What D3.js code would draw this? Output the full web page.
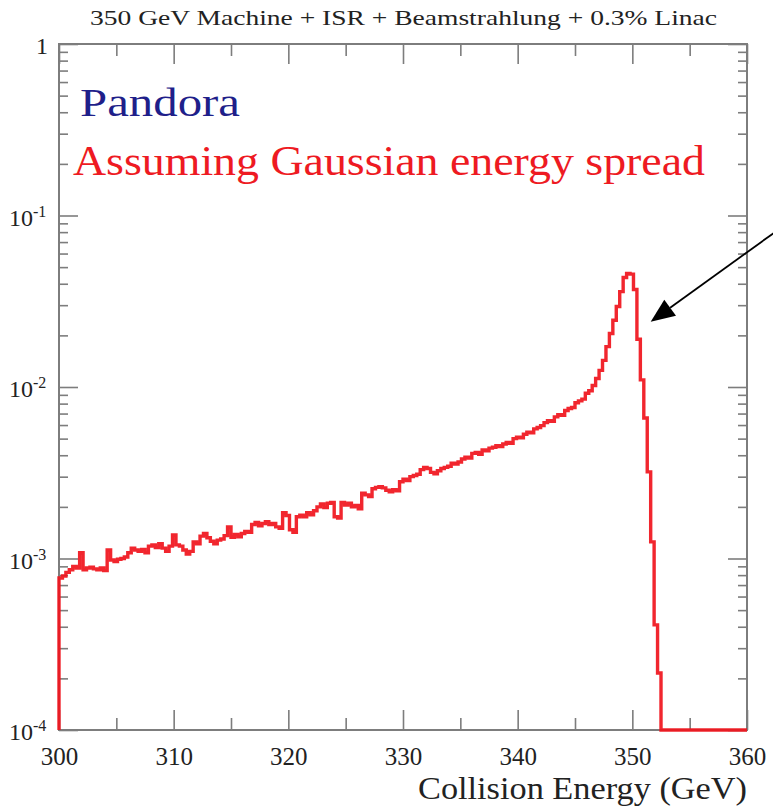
<!DOCTYPE html>
<html>
<head>
<meta charset="utf-8">
<script src="https://cdn.jsdelivr.net/npm/d3@7"></script>
<style>
  body { margin: 0; background: #fff; }
  svg { display: block; }
  svg text { font-family: "Liberation Serif", "Times New Roman", Times, serif; }
</style>
</head>
<body>
<svg id="chart"></svg>
<script>
// histogram: 0.3 GeV bins starting at 300 GeV
const binStart = 300;
const binWidth = 0.3;
const counts = [
  7.7e-4, 7.9e-4, 8.3e-4, 8.6e-4, 9.0e-4, 8.8e-4, 1.08e-3, 8.6e-4, 8.8e-4, 8.9e-4,
  8.7e-4, 8.6e-4, 8.8e-4, 8.5e-4, 1.12e-3, 9.8e-4, 9.6e-4, 9.9e-4, 1.0e-3, 1.02e-3,
  1.08e-3, 1.15e-3, 1.12e-3, 1.1e-3, 1.13e-3, 1.08e-3, 1.18e-3, 1.2e-3, 1.16e-3, 1.22e-3,
  1.15e-3, 1.1e-3, 1.18e-3, 1.37e-3, 1.2e-3, 1.18e-3, 1.12e-3, 1.06e-3, 1.1e-3, 1.25e-3,
  1.22e-3, 1.35e-3, 1.4e-3, 1.32e-3, 1.26e-3, 1.22e-3, 1.28e-3, 1.3e-3, 1.36e-3, 1.53e-3,
  1.33e-3, 1.38e-3, 1.34e-3, 1.4e-3, 1.44e-3, 1.42e-3, 1.58e-3, 1.62e-3, 1.55e-3, 1.6e-3,
  1.64e-3, 1.58e-3, 1.6e-3, 1.53e-3, 1.5e-3, 1.85e-3, 1.78e-3, 1.47e-3, 1.42e-3, 1.75e-3,
  1.79e-3, 1.75e-3, 1.85e-3, 1.8e-3, 1.9e-3, 2.0e-3, 2.08e-3, 1.98e-3, 2.1e-3, 2.12e-3,
  1.75e-3, 1.72e-3, 2.12e-3, 2.05e-3, 2.1e-3, 2.0e-3, 2.04e-3, 1.95e-3, 2.4e-3, 2.35e-3,
  2.3e-3, 2.55e-3, 2.6e-3, 2.62e-3, 2.58e-3, 2.5e-3, 2.45e-3, 2.52e-3, 2.48e-3, 2.8e-3,
  2.9e-3, 2.85e-3, 3.0e-3, 3.05e-3, 3.1e-3, 3.3e-3, 3.4e-3, 3.35e-3, 3.18e-3, 3.12e-3,
  3.25e-3, 3.35e-3, 3.4e-3, 3.45e-3, 3.6e-3, 3.55e-3, 3.65e-3, 3.8e-3, 3.9e-3, 3.85e-3,
  4.1e-3, 4.15e-3, 4.05e-3, 4.3e-3, 4.25e-3, 4.4e-3, 4.45e-3, 4.55e-3, 4.5e-3, 4.65e-3,
  4.75e-3, 4.7e-3, 5.0e-3, 5.1e-3, 5.05e-3, 5.3e-3, 5.45e-3, 5.4e-3, 5.7e-3, 5.8e-3,
  5.95e-3, 6.2e-3, 6.35e-3, 6.3e-3, 6.7e-3, 6.9e-3, 6.85e-3, 7.3e-3, 7.5e-3, 7.6e-3,
  8.1e-3, 8.3e-3, 8.5e-3, 9.2e-3, 9.5e-3, 1.02e-2, 1.12e-2, 1.25e-2, 1.43e-2, 1.72e-2,
  2.05e-2, 2.45e-2, 2.95e-2, 3.6e-2, 4.35e-2, 4.6e-2, 4.55e-2, 3.7e-2, 1.9e-2, 1.1e-2,
  6.6e-3, 3.2e-3, 1.25e-3, 4.1e-4, 2.15e-4, 0, 0, 0, 0, 0,
  0, 0, 0, 0, 0, 0, 0, 0, 0, 0,
  0, 0, 0, 0, 0, 0, 0, 0, 0, 0
];

const xMajorTicks = [300, 310, 320, 330, 340, 350, 360];
const xMinorTicks = [305, 315, 325, 335, 345, 355];
const yMajorTicks = [1, 1e-1, 1e-2, 1e-3, 1e-4];
const yExponents = ["", "-1", "-2", "-3", "-4"];

const chartTitle = "350 GeV Machine + ISR + Beamstrahlung + 0.3% Linac";
const xTitle = "Collision Energy (GeV)";
const label1 = "Pandora";
const label2 = "Assuming Gaussian energy spread";
// arrow in data coordinates: tail (off the right edge) -> tip
const arrowTail = [363.5, 0.09];
const arrowTip = [351.6, 0.024];

const width = 773;
const height = 809;
const margin = { top: 44, right: 26, bottom: 79, left: 59 };
const innerW = width - margin.left - margin.right;
const innerH = height - margin.top - margin.bottom;
const axisColor = "#7d7d7d";
const textColor = "#222";

const svg = d3.select("#chart")
  .attr("width", width)
  .attr("height", height);

const x = d3.scaleLinear().domain([300, 360]).range([margin.left, margin.left + innerW]);
const y = d3.scaleLog().domain([1e-4, 1]).range([margin.top + innerH, margin.top]).clamp(true);

// y minor ticks 2..9 in every decade
const yMinorTicks = [];
[1e-4, 1e-3, 1e-2, 1e-1].forEach(d => {
  for (let k = 2; k <= 9; k++) yMinorTicks.push(d * k);
});

// frame
svg.append("rect")
  .attr("x", x(300)).attr("y", y(1))
  .attr("width", x(360) - x(300)).attr("height", y(1e-4) - y(1))
  .attr("fill", "none").attr("stroke", axisColor).attr("stroke-width", 2);

function tickAxis(axis, tf) {
  const g = svg.append("g").attr("transform", tf).call(axis)
    .attr("font-family", null).attr("font-size", null);
  g.select(".domain").remove();
  g.selectAll(".tick line").attr("stroke", axisColor).attr("stroke-width", 1.6);
  return g;
}

// bottom + top
tickAxis(d3.axisBottom(x).tickValues(xMajorTicks).tickSize(-20).tickPadding(17).tickFormat(d3.format("d")),
  `translate(0,${y(1e-4)})`)
  .selectAll("text")
  .attr("font-size", 25).attr("fill", textColor);
tickAxis(d3.axisBottom(x).tickValues(xMinorTicks).tickSize(-12).tickFormat(""), `translate(0,${y(1e-4)})`);
tickAxis(d3.axisTop(x).tickValues(xMajorTicks).tickSize(-20).tickFormat(""), `translate(0,${y(1)})`);
tickAxis(d3.axisTop(x).tickValues(xMinorTicks).tickSize(-12).tickFormat(""), `translate(0,${y(1)})`);

// left + right
tickAxis(d3.axisLeft(y).tickValues(yMajorTicks).tickSize(-19).tickFormat(""), `translate(${x(300)},0)`);
tickAxis(d3.axisLeft(y).tickValues(yMinorTicks).tickSize(-9).tickFormat(""), `translate(${x(300)},0)`);
tickAxis(d3.axisLeft(y).tickValues(yMajorTicks).tickSize(19).tickFormat(""), `translate(${x(360)},0)`);
tickAxis(d3.axisLeft(y).tickValues(yMinorTicks).tickSize(9).tickFormat(""), `translate(${x(360)},0)`);

// y labels with exponents
const yLab = svg.append("g").attr("fill", textColor);
yMajorTicks.forEach((v, i) => {
  if (yExponents[i] === "") {
    yLab.append("text")
      .attr("x", x(300) - 11).attr("y", y(v) + 10)
      .attr("text-anchor", "end").attr("font-size", 24)
      .text("1");
  } else {
    yLab.append("text")
      .attr("x", x(300) - 26).attr("y", y(v) + 10)
      .attr("text-anchor", "end").attr("font-size", 24)
      .text("10");
    yLab.append("text")
      .attr("x", x(300) - 26).attr("y", y(v) + 1)
      .attr("font-size", 16)
      .text(yExponents[i]);
  }
});

// histogram as a step line
const pts = [[x(binStart), y(1e-4)]];
counts.forEach((c, i) => {
  const lo = binStart + i * binWidth;
  const hi = lo + binWidth;
  const v = c > 0 ? c : 1e-4;
  pts.push([x(lo), y(v)]);
  pts.push([x(hi), y(v)]);
});

svg.append("path")
  .attr("d", d3.line()(pts))
  .attr("fill", "none")
  .attr("stroke", "#f0141c")
  .attr("stroke-width", 3.4)
  .attr("stroke-linejoin", "miter")
  .attr("opacity", 0.92);

// texts
svg.append("text")
  .attr("x", 90).attr("y", 25)
  .attr("font-size", 22).attr("fill", textColor)
  .attr("textLength", 627).attr("lengthAdjust", "spacingAndGlyphs")
  .text(chartTitle);

svg.append("text")
  .attr("x", 80).attr("y", 116)
  .attr("font-size", 40).attr("fill", "#1f1f8a")
  .attr("textLength", 160).attr("lengthAdjust", "spacingAndGlyphs")
  .text(label1);

svg.append("text")
  .attr("x", 73).attr("y", 175)
  .attr("font-size", 42).attr("fill", "#ee1a22")
  .attr("textLength", 632).attr("lengthAdjust", "spacingAndGlyphs")
  .text(label2);

svg.append("text")
  .attr("x", 418).attr("y", 799)
  .attr("font-size", 31).attr("fill", textColor)
  .attr("textLength", 329).attr("lengthAdjust", "spacingAndGlyphs")
  .text(xTitle);

// arrow
const tx = x(arrowTip[0]), ty = y(arrowTip[1]);
const sx = x(arrowTail[0]), sy = y(arrowTail[1]);
const ang = Math.atan2(ty - sy, tx - sx);
const headLen = 24, headHalf = 10;
const bx = tx - headLen * Math.cos(ang), by = ty - headLen * Math.sin(ang);
svg.append("line")
  .attr("x1", sx).attr("y1", sy).attr("x2", bx).attr("y2", by)
  .attr("stroke", "#000").attr("stroke-width", 1.8);
svg.append("path")
  .attr("d", d3.line()([
    [tx, ty],
    [bx + headHalf * Math.sin(ang), by - headHalf * Math.cos(ang)],
    [bx - headHalf * Math.sin(ang), by + headHalf * Math.cos(ang)]
  ]) + "Z")
  .attr("fill", "#000");
</script>
</body>
</html>
